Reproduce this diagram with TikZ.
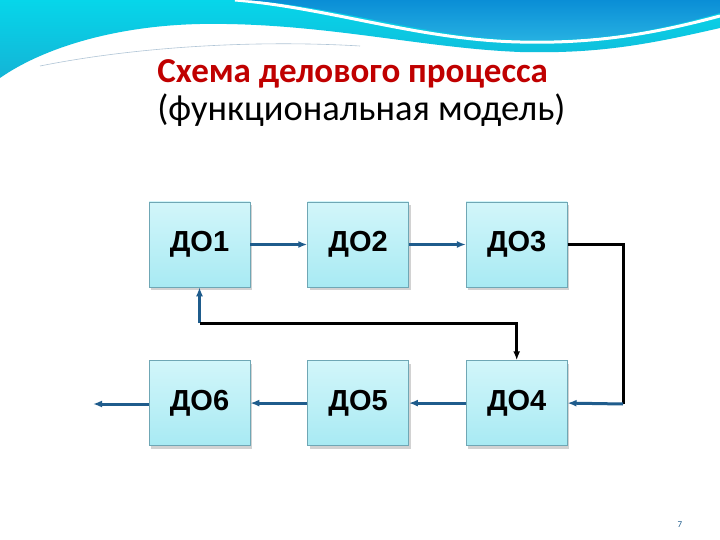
\documentclass[tikz,border=0pt]{standalone}
\usepackage{fontspec}
\setmainfont{Carlito}
\newfontfamily\boxfont{Liberation Sans}
\usepackage{xcolor}
\usetikzlibrary{positioning, arrows.meta, shadows}

\definecolor{titlered}{HTML}{C00000}
\definecolor{flowblue}{HTML}{1F5C8C}
\definecolor{boxedge}{HTML}{6FA7B5}
\definecolor{boxtop}{HTML}{D2F6FA}
\definecolor{boxbot}{HTML}{A8EAF3}
\definecolor{wavecyan}{HTML}{06D6EA}
\definecolor{wavecyandark}{HTML}{14B4D6}
\definecolor{waveblue}{HTML}{0A8ED6}
\definecolor{waveblue2}{HTML}{27B2E2}

\begin{document}
\begin{tikzpicture}[x=1pt, y=-1pt, thick, >={Latex[length=9pt,width=7pt]}]

    % Styles for the boxes and the connectors
    \tikzset{
        dobox/.style={
            draw=boxedge, line width=0.6pt,
            top color=boxtop, bottom color=boxbot,
            minimum width=101pt, minimum height=85pt,
            font=\boxfont\bfseries\fontsize{29}{32}\selectfont,
            drop shadow={shadow xshift=2pt, shadow yshift=-3pt, opacity=0.35}
        },
        flowarrow/.style={->, draw=flowblue, line width=3pt},
        backline/.style={draw=black, line width=3pt}
    }

    \useasboundingbox (0,0) rectangle (720,540);
    \fill[white] (0,0) rectangle (720,540);

    % ==========================================
    % Header wave
    % ==========================================
    \shade[top color=wavecyan, bottom color=wavecyandark]
        (0,0) -- (720,0) -- (720,28)
        .. controls (650,44) and (600,54) .. (520,52)
        .. controls (420,48) and (320,22) .. (200,24)
        .. controls (110,26) and (40,50) .. (0,78) -- cycle;
    \draw[white, line width=3pt]
        (235,0) .. controls (330,8) and (420,40) .. (520,42)
        .. controls (600,44) and (660,32) .. (720,16);
    \shade[top color=waveblue, bottom color=waveblue2]
        (245,0) .. controls (335,6) and (425,37) .. (520,40)
        .. controls (600,42) and (660,30) .. (720,13) -- (720,0) -- cycle;
    \draw[flowblue!35, line width=0.6pt]
        (40,66) .. controls (140,46) and (260,40) .. (360,46);

    % ==========================================
    % Title
    % ==========================================
    \node[anchor=base west, text=titlered, font=\bfseries\fontsize{35}{40}\selectfont,
        inner sep=0pt] (title) at (157,83) {Схема делового процесса};
    \node[anchor=base west, font=\fontsize{36.5}{40}\selectfont, inner sep=0pt]
        (subtitle) at (157,121) {(функциональная модель)};

    % ==========================================
    % Boxes
    % ==========================================
    \node[dobox] (do1) at (199.5,244.5) {ДО1};
    \node[dobox, right=57pt of do1] (do2) {ДО2};
    \node[dobox, right=57pt of do2] (do3) {ДО3};
    \node[dobox, below=73pt of do1] (do6) {ДО6};
    \node[dobox, right=57pt of do6] (do5) {ДО5};
    \node[dobox, right=57pt of do5] (do4) {ДО4};

    \coordinate (fb) at (199.5,323);
    \coordinate (rt) at (623,404);
    \coordinate (out) at (93,404);

    % ==========================================
    % Connectors
    % ==========================================
    \draw[flowarrow] (do1) -- (do2);
    \draw[flowarrow] (do2) -- (do3);
    \draw[backline] (do3.east) -| (rt);
    \draw[flowarrow] (rt) -- (do4.east);
    \draw[flowarrow] (do4) -- (do5);
    \draw[flowarrow] (do5) -- (do6);
    \draw[flowarrow] (do6.west |- out) -- (out);

    % Feedback loop
    \draw[flowarrow] (fb) -- (do1.south);
    \draw[backline, ->] (fb) -| (do4.north);

    % Page number
    \node[text=flowblue, font=\fontsize{9}{10}\selectfont] (page) at (680,525) {7};

\end{tikzpicture}
\end{document}
